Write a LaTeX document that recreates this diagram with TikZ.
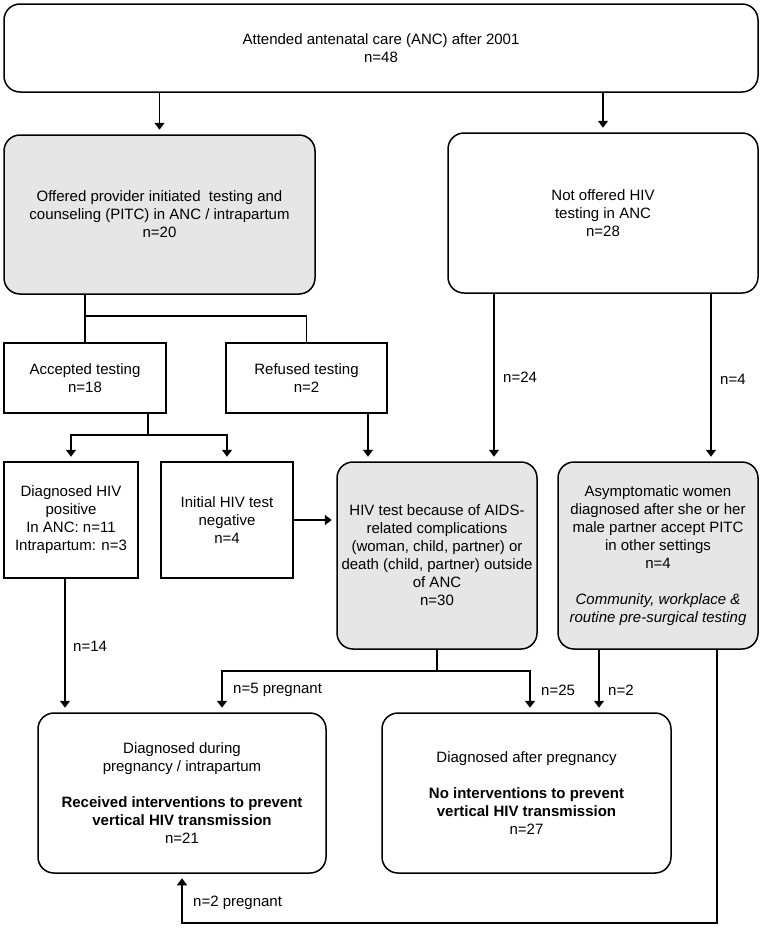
\documentclass[tikz,border=0pt]{standalone}
\usepackage{fontspec}
\setmainfont{Liberation Sans}
\usetikzlibrary{arrows.meta}
\definecolor{boxgray}{RGB}{230,230,230}
\begin{document}
\begin{tikzpicture}[x=1pt,y=-1pt,
  every node/.style={font=\fontsize{15}{18}\selectfont},
  base/.style={draw=black, line width=1.5pt, align=center, inner sep=0pt, anchor=center},
  rbox/.style={base, rounded corners=16pt},
  sbox/.style={base},
  gbox/.style={rbox, fill=boxgray},
  conn/.style={line width=1.5pt, draw=black},
  arr/.style={conn, -{Triangle[width=10pt,length=7pt]}, shorten >=4.5pt},
  lbl/.style={anchor=west, inner sep=0pt}]
\useasboundingbox (0,0) rectangle (763,929);

% boxes
\node[rbox, minimum width=754pt, minimum height=88pt] (top) at (381,48)
  {Attended antenatal care (ANC) after 2001\\n=48};
\node[gbox, minimum width=311pt, minimum height=159pt] (offered) at (159.5,214.5)
  {Offered provider initiated\ \ testing and\\counseling (PITC) in ANC / intrapartum\\n=20};
\node[rbox, minimum width=310pt, minimum height=160pt] (notoff) at (603,213)
  {Not offered HIV\\testing in ANC\\n=28};
\node[sbox, minimum width=162pt, minimum height=70pt] (accepted) at (85,378)
  {Accepted testing\\n=18};
\node[sbox, minimum width=161pt, minimum height=70pt] (refused) at (306.5,378)
  {Refused testing\\n=2};
\node[sbox, minimum width=134pt, minimum height=116pt] (diag) at (71,520)
  {Diagnosed HIV\\positive\\In ANC: n=11\\Intrapartum: n=3};
\node[sbox, minimum width=132pt, minimum height=116pt] (initial) at (227,520)
  {Initial HIV test\\negative\\n=4};
\node[gbox, minimum width=200pt, minimum height=187pt] (hivtest) at (437,555.5)
  {HIV test because of AIDS-\\related complications\\(woman, child, partner) or\\death (child, partner) outside\\of ANC\\n=30};
\node[gbox, minimum width=200pt, minimum height=187pt] (asym) at (658,555.5)
  {Asymptomatic women\\diagnosed after she or her\\male partner accept PITC\\in other settings\\n=4\\[18pt]\textit{Community, workplace \&}\\\textit{routine pre-surgical testing}};
\node[rbox, minimum width=288pt, minimum height=160pt] (bl) at (182,793)
  {Diagnosed during\\pregnancy / intrapartum\\[18pt]\textbf{Received interventions to prevent}\\\textbf{vertical HIV transmission}\\n=21};
\node[rbox, minimum width=289pt, minimum height=160pt] (br) at (526.5,793)
  {Diagnosed after pregnancy\\[18pt]\textbf{No interventions to prevent}\\\textbf{vertical HIV transmission}\\n=27};

% junction points
\coordinate (accsplit) at (148,435);
\coordinate (hivsplit) at (437,671);

% connectors
\draw[arr] (top.south -| offered.north) -- (offered.north);
\draw[arr] (top.south -| notoff.north) -- (notoff.north);

\draw[conn] (offered.south -| accepted.north) -- (accepted.north);
\draw[conn] (accepted.north |- 0,316) -| (refused.north);

\draw[conn] (accepted.south -| accsplit) -- (accsplit);
\draw[arr] (accsplit) -| (diag.north);
\draw[arr] (accsplit) -| (initial.north);

\draw[arr] (refused.south -| 368,0) -- (hivtest.north -| 368,0);
\draw[arr] (notoff.south -| 494,0) -- (hivtest.north -| 494,0);
\draw[arr] (notoff.south -| 711,0) -- (asym.north -| 711,0);

\draw[arr] (initial.east) -- (hivtest.west |- initial.east);

\draw[arr] (diag.south -| 65,0) -- (bl.north -| 65,0);

\draw[conn] (hivtest.south) -- (hivsplit);
\draw[arr] (hivsplit) -| (bl.north -| 222,0);
\draw[arr] (hivsplit) -| (br.north -| 530,0);

\draw[arr] (asym.south -| 599,0) -- (br.north -| 599,0);
\draw[arr] (asym.south -| 717,0) -- (717,923) -| (bl.south);

% labels
\node[lbl] (l24) at (503,377) {n=24};
\node[lbl] (l4) at (720,379) {n=4};
\node[lbl] (l14) at (73,646) {n=14};
\node[lbl] (l5) at (233,690) {n=5 pregnant};
\node[lbl] (l25) at (541,690) {n=25};
\node[lbl] (l2) at (608,690) {n=2};
\node[lbl] (l2p) at (193,903) {n=2 pregnant};
\end{tikzpicture}
\end{document}
